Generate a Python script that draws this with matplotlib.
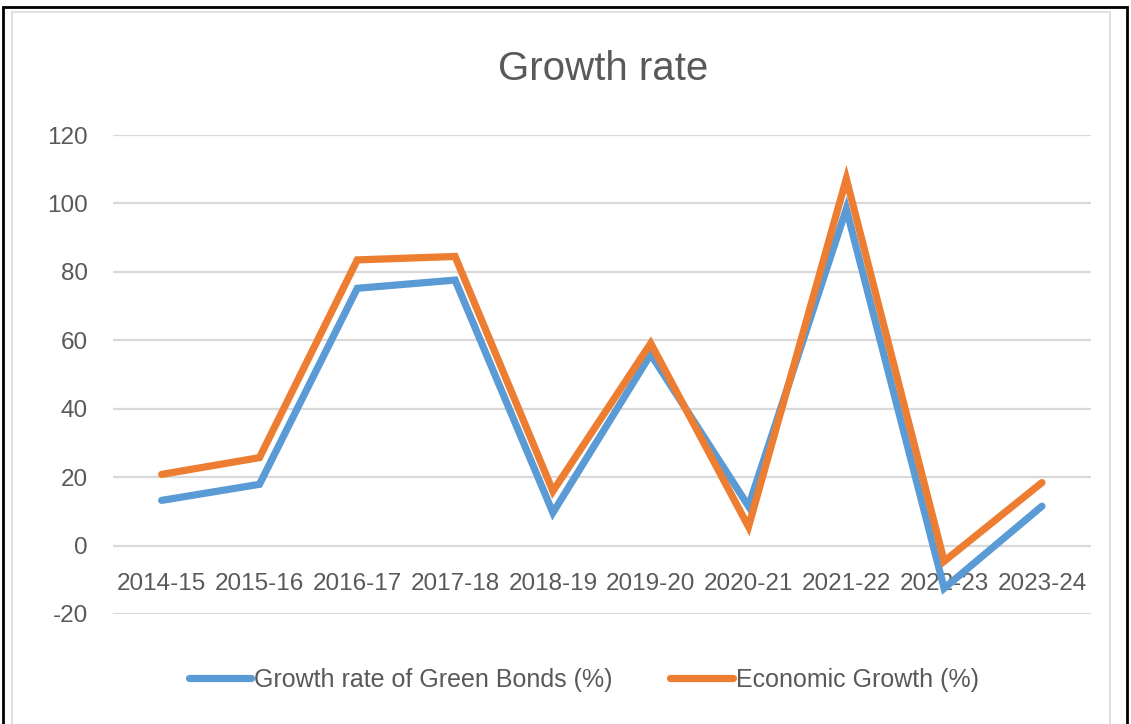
import matplotlib
matplotlib.use('Agg')
from matplotlib import pyplot as plt
from matplotlib.patches import Rectangle

years = ['2014-15', '2015-16', '2016-17', '2017-18', '2018-19',
         '2019-20', '2020-21', '2021-22', '2022-23', '2023-24']
green_bonds = [13.2, 17.9, 75.2, 77.6, 9.6, 55.9, 11.5, 98.4, -12.5, 11.5]
econ_growth = [20.8, 25.7, 83.5, 84.5, 15.9, 59.1, 5.5, 107.2, -4.6, 18.4]
yticks = [-20, 0, 20, 40, 60, 80, 100, 120]

plt.rcParams['font.family'] = ['Liberation Sans', 'DejaVu Sans']
plt.rcParams['axes.unicode_minus'] = False
TXT = '#595959'

fig = plt.figure(figsize=(11.31, 7.24), dpi=100)
ax = fig.add_axes([0.0997, 0.152, 0.8648, 0.6615])

x = range(len(years))
ax.plot(x, green_bonds, color='#5B9BD5', lw=5.2, solid_joinstyle='miter',
        solid_capstyle='round', label='Growth rate of Green Bonds (%)', zorder=3)
ax.plot(x, econ_growth, color='#ED7D31', lw=5.2, solid_joinstyle='miter',
        solid_capstyle='round', label='Economic Growth (%)', zorder=4)

ax.set_xlim(-0.5, len(years) - 0.5)
ax.set_ylim(-20, 120)
ax.set_yticks(yticks)
ax.set_xticks(list(x))
ax.set_xticklabels(years)
ax.grid(axis='y', color='#D9D9D9', lw=1.6)
ax.set_axisbelow(True)
for s in ['top', 'right', 'left']:
    ax.spines[s].set_visible(False)
ax.spines['bottom'].set_position(('data', 0))
ax.spines['bottom'].set_visible(False)
ax.tick_params(axis='both', length=0, labelsize=17.5, labelcolor=TXT)
ax.tick_params(axis='x', pad=20)
ax.tick_params(axis='y', pad=18)

fig.text(0.533, 0.905, 'Growth rate', ha='center', va='center',
         fontsize=29, color=TXT)

leg = fig.legend(loc='center', bbox_to_anchor=(0.516, 0.061), ncol=2,
                 frameon=False, fontsize=18, handlelength=2.5,
                 handletextpad=0.12, columnspacing=2.3)
for t in leg.get_texts():
    t.set_color(TXT)

# chart frame and outer border
fig.add_artist(Rectangle((12 / 1131, -0.05), 1098 / 1131, 1 - 12 / 724 + 0.05,
                         transform=fig.transFigure, fill=False,
                         edgecolor='#D9D9D9', lw=1.2))
fig.add_artist(Rectangle((3 / 1131, -0.05), 1124 / 1131, 1 - 7 / 724 + 0.05,
                         transform=fig.transFigure, fill=False,
                         edgecolor='black', lw=2))

fig.savefig('out.png', dpi=100)
plt.close(fig)
